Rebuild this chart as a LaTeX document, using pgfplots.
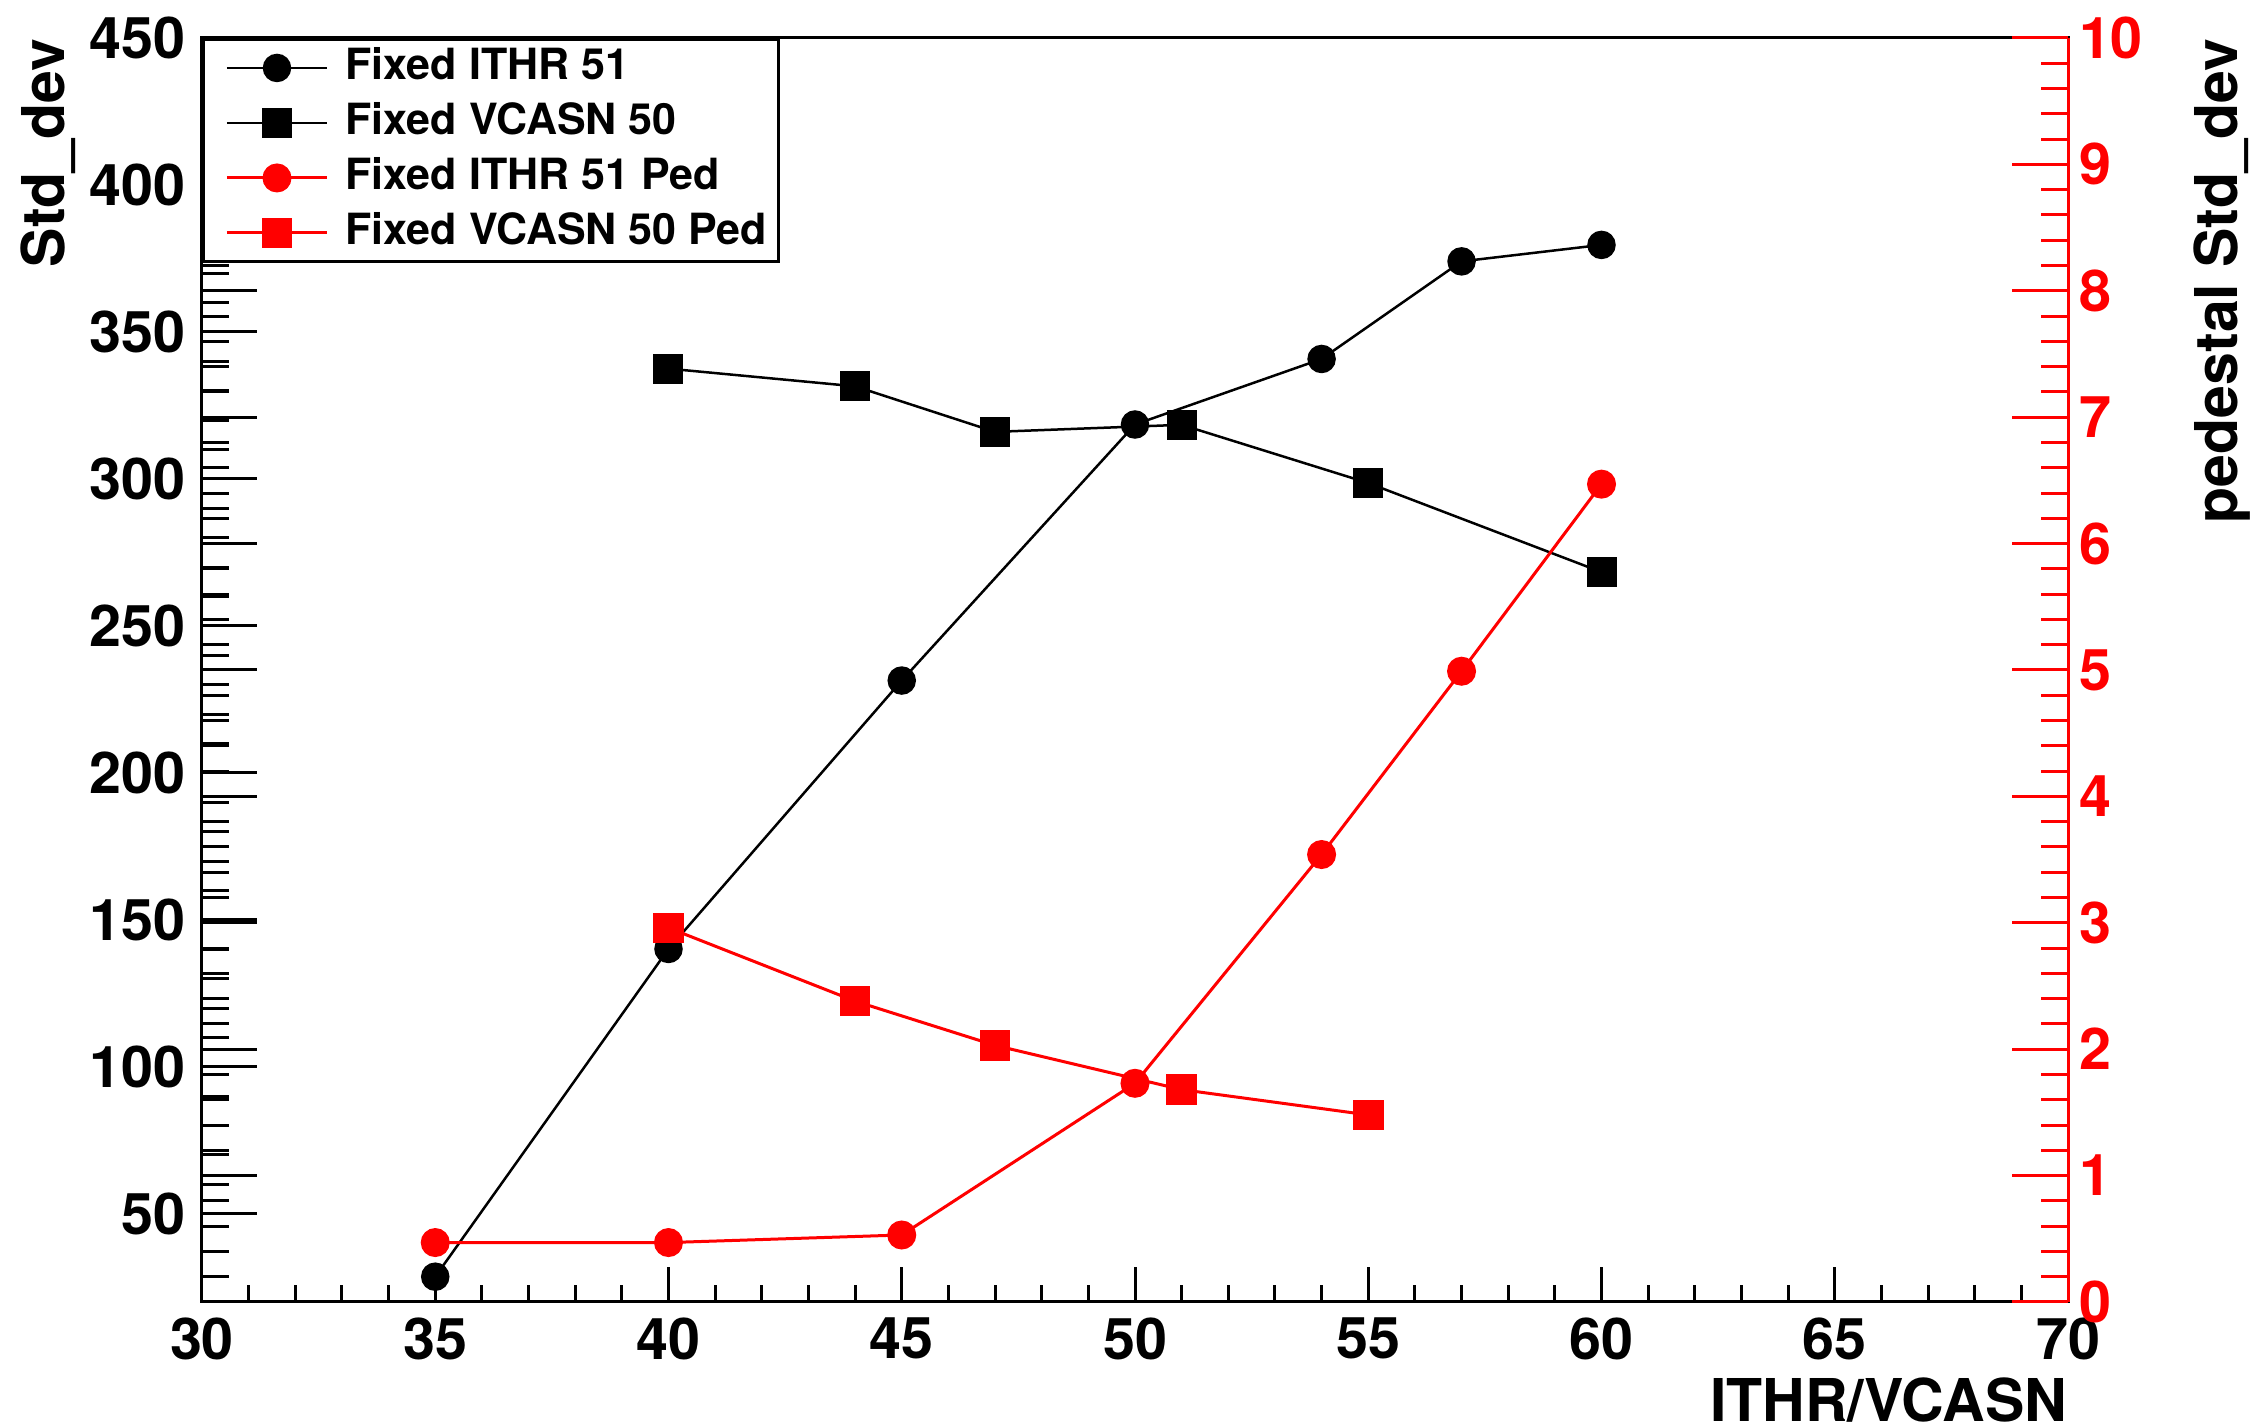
\documentclass[border=0pt]{standalone}
\usepackage{fontspec}
\setmainfont{TeX Gyre Heros}
\usepackage{pgfplots}
\usepackage{pgfplotstable}
\pgfplotsset{compat=1.18}
\definecolor{rootred}{RGB}{255,0,0}

\pgfplotstableread{
x y
35 28.6
40 140.1
45 231.4
50 318.5
54 340.8
57 374.0
60 379.6
}\ithr
\pgfplotstableread{
x y
40 337.5
44 331.5
47 316.0
51 318.4
55 298.6
60 268.3
}\vcasn
\pgfplotstableread{
x y
35 0.47
40 0.47
45 0.53
50 1.73
54 3.54
57 4.99
60 6.47
}\ithrped
\pgfplotstableread{
x y
40 2.96
44 2.38
47 2.03
51 1.68
55 1.48
}\vcasnped

\newcommand{\tickfont}{\bfseries\fontsize{11.5}{13}\selectfont}
\newcommand{\labfont}{\bfseries\fontsize{11.8}{14}\selectfont}

\pgfplotsset{
  common/.style={
    scale only axis, width=373.2pt, height=252.8pt,
    xmin=30, xmax=70, at={(0pt,0pt)}, anchor=south west,
    /pgf/number format/assume math mode=true,
    tick align=inside,
    axis line style={line width=0.6pt},
    tick style={line width=0.6pt, black},
  }
}

\begin{document}
\begin{tikzpicture}
\useasboundingbox (-40.4pt,-25pt) rectangle (409.6pt,260.4pt);

% frame and x axis
\begin{axis}[common,
  ymin=20, ymax=450, ytick=\empty,
  xtick={30,35,...,70}, minor x tick num=4, xtick pos=left,
  major tick length=7pt, minor tick length=3.4pt,
  xticklabel style={font=\tickfont, inner sep=0pt, yshift=-3pt},
  xlabel={ITHR/VCASN},
  xlabel style={font=\labfont, at={(rel axis cs:1,0)}, anchor=base east, inner sep=0pt, yshift=-23.9pt},
]
\end{axis}

% secondary frame ticks on the left (0..10 scale)
\begin{axis}[common,
  ymin=0, ymax=10, xtick=\empty,
  axis line style={draw=none},
  ytick={0,1,...,10}, minor y tick num=4, ytick pos=left,
  yticklabels={},
  major tick length=11pt, minor tick length=5.4pt,
]
\end{axis}

% main left axis with black data and legend
\begin{axis}[common,
  ymin=20, ymax=450, xtick=\empty,
  axis line style={draw=none},
  ytick={50,100,...,450}, minor y tick num=4, ytick pos=left,
  major tick length=11pt, minor tick length=5.4pt,
  yticklabel style={font=\tickfont, inner sep=0pt, xshift=-3.2pt},
  ylabel={Std\_dev},
  ylabel style={font=\labfont, at={(rel axis cs:-0.0823,1)}, anchor=east, inner sep=0pt},
  legend cell align=left,
  legend image code/.code={\path (-2.1pt,0pt); \draw[mark repeat=2,mark phase=2,#1] plot coordinates {(0pt,0pt) (10pt,0pt) (20pt,0pt)};},
  legend style={at={(0,1)}, anchor=north west, draw=black, line width=0.6pt, fill=white,
    font=\bfseries\fontsize{8.6}{10}\selectfont,
    inner xsep=2.3pt, inner ysep=1.7pt, row sep=3pt,
    nodes={inner sep=0pt, text height=6.3pt, text depth=1.7pt},
    /tikz/every odd column/.style={column sep=3.4pt}},
]
\addplot[black, line width=0.5pt, mark=*, mark size=2.6pt, mark options={solid, fill=black}] table[x=x,y=y] {\ithr};
\addlegendentry{Fixed ITHR 51}
\addplot[black, line width=0.5pt, mark=square*, mark size=2.75pt, mark options={solid, fill=black}] table[x=x,y=y] {\vcasn};
\addlegendentry{Fixed VCASN 50}
\addlegendimage{rootred, line width=0.6pt, mark=*, mark size=2.6pt, mark options={solid, fill=rootred}}
\addlegendentry{Fixed ITHR 51 Ped}
\addlegendimage{rootred, line width=0.6pt, mark=square*, mark size=2.75pt, mark options={solid, fill=rootred}}
\addlegendentry{Fixed VCASN 50 Ped}
\end{axis}

% red right axis with red data
\begin{axis}[common,
  ymin=0, ymax=10,
  axis x line=none, axis y line*=right,
  y axis line style={rootred, line width=0.6pt},
  ytick={0,1,...,10}, minor y tick num=4,
  major tick length=11.2pt, minor tick length=5.4pt,
  tick style={line width=0.6pt, rootred},
  yticklabel style={font=\tickfont, text=rootred, inner sep=0pt, xshift=2pt},
  ylabel={pedestal Std\_dev},
  ylabel style={font=\labfont, text=black, at={(rel axis cs:1.0825,1)}, anchor=east, inner sep=0pt},
]
\addplot[rootred, line width=0.6pt, mark=*, mark size=2.6pt, mark options={solid, fill=rootred}] table[x=x,y=y] {\ithrped};
\addplot[rootred, line width=0.6pt, mark=square*, mark size=2.75pt, mark options={solid, fill=rootred}] table[x=x,y=y] {\vcasnped};
\end{axis}
\end{tikzpicture}
\end{document}
